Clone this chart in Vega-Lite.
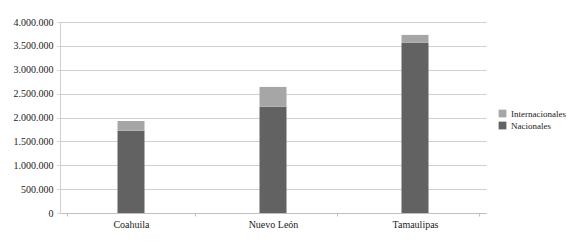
{
  "$schema": "https://vega.github.io/schema/vega-lite/v6.json",
  "width": 426,
  "height": 191,
  "autosize": {"type": "none"},
  "padding": {"left": 60, "top": 22, "right": 93, "bottom": 33},
  "background": "white",
  "config": {
    "font": "Liberation Serif",
    "view": {"stroke": null},
    "axis": {"labelFont": "Liberation Serif", "labelColor": "#222", "labelFontSize": 10}
  },
  "data": {
    "values": [
      {"estado": "Coahuila", "tipo": "Nacionales", "orden": 1, "pasajeros": 1724000},
      {"estado": "Coahuila", "tipo": "Internacionales", "orden": 2, "pasajeros": 203000},
      {"estado": "Nuevo León", "tipo": "Nacionales", "orden": 1, "pasajeros": 2226000},
      {"estado": "Nuevo León", "tipo": "Internacionales", "orden": 2, "pasajeros": 414000},
      {"estado": "Tamaulipas", "tipo": "Nacionales", "orden": 1, "pasajeros": 3566000},
      {"estado": "Tamaulipas", "tipo": "Internacionales", "orden": 2, "pasajeros": 164000}
    ]
  },
  "mark": {"type": "bar", "size": 27},
  "encoding": {
    "x": {
      "field": "estado", "type": "nominal", "sort": null, "title": null,
      "axis": {"labelAngle": 0, "domainColor": "#bfbfbf", "tickColor": "#bfbfbf", "tickBand": "extent", "tickSize": 3, "labelPadding": 3}
    },
    "y": {
      "field": "pasajeros", "type": "quantitative", "aggregate": "sum", "title": null,
      "scale": {"domain": [0, 4000000]},
      "axis": {
        "values": [0, 500000, 1000000, 1500000, 2000000, 2500000, 3000000, 3500000, 4000000],
        "labelExpr": "replace(format(datum.value, ',d'), /,/g, '.')",
        "gridColor": "#d0d0d0", "domainColor": "#d0d0d0", "tickColor": "#d0d0d0", "tickSize": 3, "labelPadding": 4
      }
    },
    "color": {
      "field": "tipo", "type": "nominal", "title": null,
      "scale": {"domain": ["Internacionales", "Nacionales"], "range": ["#a6a6a6", "#626262"]},
      "legend": {"orient": "none", "legendX": 438, "legendY": 87, "symbolType": "square", "symbolSize": 60, "labelFontSize": 9, "labelColor": "#222", "rowPadding": 2, "symbolStrokeWidth": 0}
    },
    "order": {"field": "orden", "type": "quantitative"}
  }
}
